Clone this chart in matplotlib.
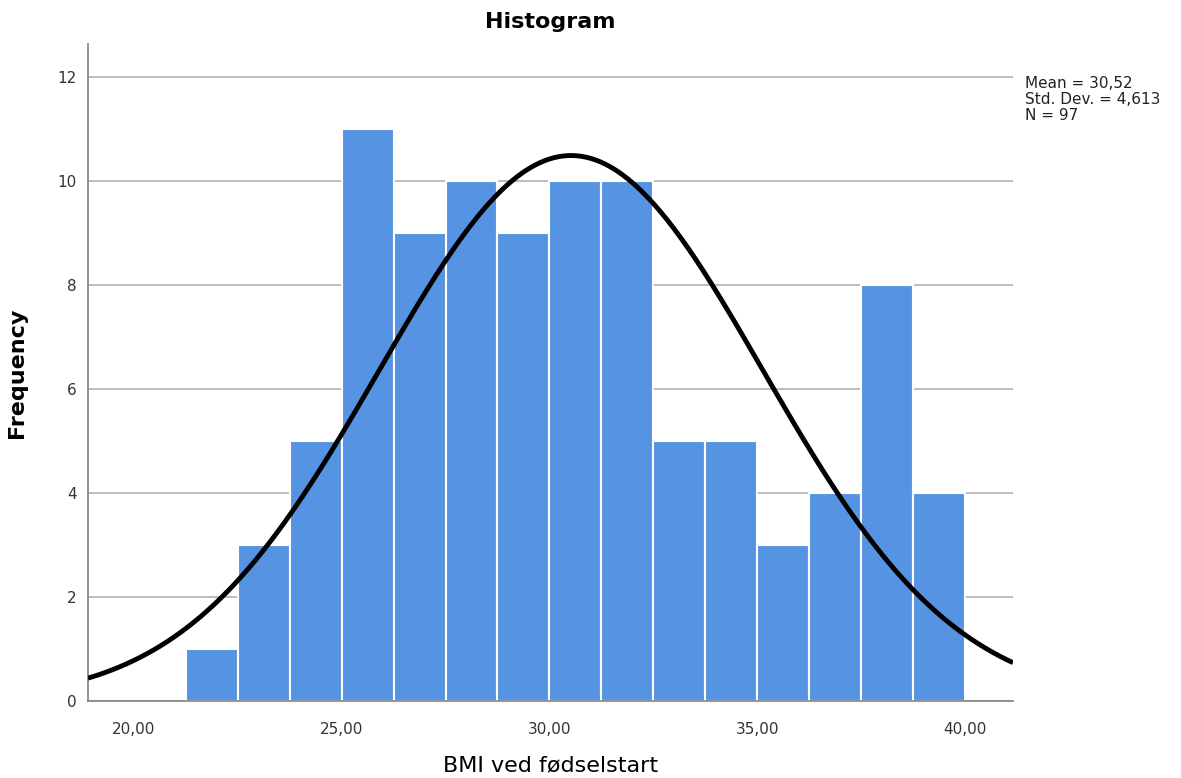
import numpy as np
import matplotlib.pyplot as plt

# ======= Data =======
bin_edges = [21.25, 22.5, 23.75, 25.0, 26.25, 27.5, 28.75, 30.0, 31.25,
             32.5, 33.75, 35.0, 36.25, 37.5, 38.75, 40.0]
counts = [1, 3, 5, 11, 9, 10, 9, 10, 10, 5, 5, 3, 4, 8, 4]
mean_bmi = 30.52
sd_bmi = 4.613
n_obs = 97
x_ticks = [20, 25, 30, 35, 40]
x_labels = ["20,00", "25,00", "30,00", "35,00", "40,00"]
y_ticks = [0, 2, 4, 6, 8, 10, 12]

# ======= Figur =======
fig = plt.figure(figsize=(11.81, 7.78), dpi=100)
ax = fig.add_axes([88 / 1181, 77 / 778, (1013 - 88) / 1181, (701 - 44) / 778])

lefts = np.array(bin_edges[:-1])
widths = np.diff(bin_edges)
ax.bar(lefts, counts, width=widths, align="edge", color="#5694e3",
       edgecolor="white", linewidth=1.5, zorder=2)

# normalfordelingskurve
bw = widths[0]
xs = np.linspace(18.9, 41.15, 400)
ys = n_obs * bw / (sd_bmi * np.sqrt(2 * np.pi)) * np.exp(-0.5 * ((xs - mean_bmi) / sd_bmi) ** 2)
ax.plot(xs, ys, color="black", linewidth=3.5, zorder=3, solid_capstyle="butt")

ax.set_xlim(18.9, 41.15)
ax.set_ylim(0, 12.63)
ax.set_xticks(x_ticks)
ax.set_xticklabels(x_labels)
ax.set_yticks(y_ticks)
ax.yaxis.grid(True, color="#b0b0b0", linewidth=1.2, zorder=0)
ax.set_axisbelow(True)
for s in ["top", "right"]:
    ax.spines[s].set_visible(False)
for s in ["left", "bottom"]:
    ax.spines[s].set_color("#808080")
    ax.spines[s].set_linewidth(1.2)
ax.tick_params(axis="both", colors="#808080", labelcolor="#333333", labelsize=11, length=0)
ax.tick_params(axis="x", pad=15)
ax.tick_params(axis="y", pad=8)

ax.set_ylabel("Frequency", fontsize=16, fontweight="bold", labelpad=22)
fig.text((88 + 1013) / 2 / 1181, 1 - 765 / 778, "BMI ved fødselstart",
         fontsize=16, ha="center", va="center")
fig.text((88 + 1013) / 2 / 1181, 1 - 22 / 778, "Histogram", fontsize=16,
         fontweight="bold", ha="center", va="center")
fig.text(1025 / 1181, 1 - 76 / 778,
         "Mean = 30,52\nStd. Dev. = 4,613\nN = 97",
         fontsize=11, ha="left", va="top", color="#222222", linespacing=1.1)

fig.savefig("out.png", dpi=100)
